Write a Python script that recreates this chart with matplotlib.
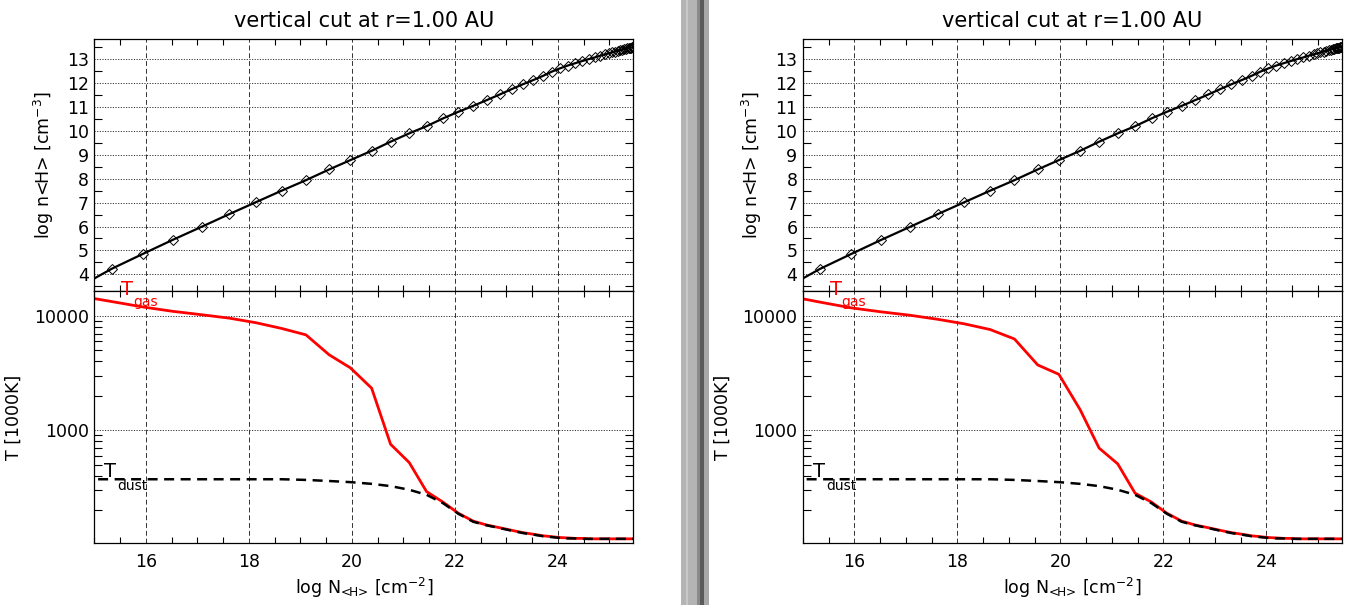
import numpy as np
import matplotlib
matplotlib.use('Agg')
import matplotlib.pyplot as plt
from matplotlib import ticker
from matplotlib.patches import Rectangle

plt.rcParams['font.family'] = ['DejaVu Sans']
plt.rcParams['mathtext.default'] = 'regular'

# column density grid (log N<H>) and density along the vertical cut
log_N = [14.75, 15.334, 15.936, 16.518, 17.082, 17.618, 18.136, 18.635, 19.107,
         19.559, 19.97, 20.383, 20.751, 21.113, 21.450, 21.773, 22.064, 22.355,
         22.616, 22.874, 23.101, 23.314, 23.520, 23.715, 23.878, 24.039, 24.194,
         24.340, 24.476, 24.602, 24.718, 24.825, 24.922, 24.99, 25.05, 25.11,
         25.16, 25.21, 25.25, 25.29, 25.32, 25.35, 25.38, 25.40, 25.42, 25.435,
         25.45, 25.46]
log_n = [3.53, 4.23, 4.85, 5.44, 5.99, 6.52, 7.02, 7.50, 7.94, 8.39, 8.78, 9.17,
         9.55, 9.90, 10.20, 10.53, 10.80, 11.05, 11.29, 11.53, 11.75, 11.95, 12.13,
         12.31, 12.48, 12.62, 12.74, 12.84, 12.93, 13.01, 13.08, 13.15, 13.21,
         13.25, 13.29, 13.32, 13.35, 13.38, 13.41, 13.43, 13.45, 13.46, 13.475,
         13.485, 13.495, 13.50, 13.505, 13.51]

# temperatures [K]
T_gas_left = [14800, 13340, 11970, 10960, 10230, 9550, 8710, 7760, 6820, 4560,
              3510, 2330, 753, 521, 290, 234, 188, 160, 148, 140, 133, 127, 123,
              119, 117, 115, 114, 113, 113, 112, 112, 112, 112,
              112, 112, 112, 112, 112, 112, 112, 112, 112, 112, 112, 112, 112,
              112, 112]
T_gas_right = [14800, 13180, 11750, 10840, 10120, 9330, 8510, 7590, 6280, 3720,
               3080, 1510, 697, 507, 281, 234, 188, 160, 148, 140, 133, 127, 123,
               119, 117, 115, 114, 113, 113, 112, 112, 112, 112,
               112, 112, 112, 112, 112, 112, 112, 112, 112, 112, 112, 112, 112,
               112, 112]
T_dust = [372, 372, 372, 372, 372, 372, 372, 372, 367, 359, 351, 339, 324, 301,
          272, 229, 186, 158, 147, 139, 132, 126, 122, 118, 116, 114, 113, 113,
          112, 112, 112, 112, 112,
          112, 112, 112, 112, 112, 112, 112, 112, 112, 112, 112, 112, 112,
          112, 112]

title = 'vertical cut at r=1.00 AU'
xlim = (15, 25.46)
n_lim = (3.3, 13.85)
T_lim = (103, 16500)

tick_fs = 12.5
label_fs = 12.5


def style_axis(ax):
    ax.tick_params(which='both', direction='in', top=True, right=True,
                   labelsize=tick_fs, pad=4)
    ax.tick_params(which='major', length=0)
    ax.tick_params(axis='x', which='minor', length=4.5, width=0.8)
    ax.tick_params(axis='y', which='minor', length=6, width=0.8)
    ax.tick_params(axis='x', pad=7)
    for s in ax.spines.values():
        s.set_linewidth(0.9)
    ax.xaxis.set_major_locator(ticker.MultipleLocator(2))
    ax.xaxis.set_minor_locator(ticker.MultipleLocator(0.5))
    ax.grid(True, axis='x', which='major', color='#333333', lw=0.7,
            linestyle=(0, (5, 3)))
    ax.grid(True, axis='y', which='major', color='#333333', lw=0.7,
            linestyle=(0, (1.2, 1.5)))
    ax.set_axisbelow(True)


def draw_panel(fig, left, T_gas):
    width = 0.3995
    ax_n = fig.add_axes([left, 0.519, width, 0.4165])
    ax_T = fig.add_axes([left, 0.1025, width, 0.4165])

    # density profile
    ax_n.plot(log_N, log_n, color='black', lw=1.6, marker='D', ms=5,
              mfc='none', mec='black', mew=0.7)
    ax_n.set_xlim(*xlim)
    ax_n.set_ylim(*n_lim)
    style_axis(ax_n)
    ax_n.yaxis.set_major_locator(ticker.MultipleLocator(1))
    ax_n.yaxis.set_minor_locator(ticker.MultipleLocator(0.5))
    ax_n.tick_params(axis='x', labelbottom=False)
    ax_n.set_ylabel('log n<H> [cm$^{-3}$]', fontsize=label_fs, labelpad=8)
    ax_n.set_title(title, fontsize=15, pad=9)

    # temperatures
    ax_T.plot(log_N, T_gas, color='#ff0000', lw=2)
    ax_T.plot(log_N, T_dust, color='black', lw=1.8, dashes=(4, 2.6))
    ax_T.set_yscale('log')
    ax_T.set_xlim(*xlim)
    ax_T.set_ylim(*T_lim)
    style_axis(ax_T)
    ax_T.yaxis.set_major_formatter(ticker.FuncFormatter(lambda v, p: f'{v:.0f}'))
    ax_T.yaxis.set_minor_locator(ticker.LogLocator(base=10, subs=np.arange(2, 10)))
    ax_T.yaxis.set_minor_formatter(ticker.NullFormatter())
    ax_T.set_ylabel('T [1000K]', fontsize=label_fs, labelpad=8)
    ax_T.set_xlabel(r'log N$_{\text{<H>}}$ [cm$^{-2}$]', fontsize=label_fs,
                    labelpad=4)

    ax_T.text(15.52, 15280, 'T', color='#ff0000', fontsize=14, va='baseline')
    ax_T.text(15.75, 12230, 'gas', color='#ff0000', fontsize=10, va='baseline')
    ax_T.text(15.19, 390, 'T', color='black', fontsize=14, va='baseline')
    ax_T.text(15.45, 301, 'dust', color='black', fontsize=10, va='baseline')


fig = plt.figure(figsize=(13.48, 6.05), dpi=100)

draw_panel(fig, 0.0701, T_gas_left)
draw_panel(fig, 0.5957, T_gas_right)

# gray separator between the two windows
W = 1348.0
for x0, x1, c in [(681, 697, '#b4b4b4'), (686, 688, '#c8c8c8'),
                  (697, 700, '#8a8a8a'), (700, 703.5, '#5a5a5a'),
                  (703.5, 708.5, '#a8a8a8')]:
    fig.patches.append(Rectangle((x0 / W, 0), (x1 - x0) / W, 1,
                                 transform=fig.transFigure, color=c, lw=0))

fig.savefig('out.png', dpi=100)
